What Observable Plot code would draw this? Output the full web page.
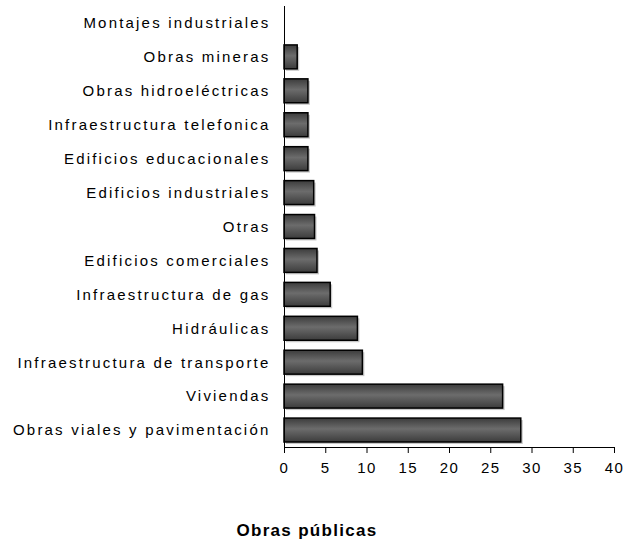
<!DOCTYPE html>
<html>
<head>
<meta charset="utf-8">
<script src="https://cdn.jsdelivr.net/npm/d3@7"></script>
<script src="https://cdn.jsdelivr.net/npm/@observablehq/plot@0.6"></script>
<style>
  html, body { margin: 0; padding: 0; background: #fff; }
  #chart { width: 635px; height: 490px; }
  #title { position: absolute; left: 0; top: 520px; width: 614px; text-align: center; font-family: "Liberation Sans", Arial, sans-serif; font-weight: bold; font-size: 17px; letter-spacing: 1.3px; color: #000; line-height: 22px; }
</style>
</head>
<body>
<div id="chart"></div>
<script>
const categories = [
  "Montajes industriales",
  "Obras mineras",
  "Obras hidroeléctricas",
  "Infraestructura telefonica",
  "Edificios educacionales",
  "Edificios industriales",
  "Otras",
  "Edificios comerciales",
  "Infraestructura de gas",
  "Hidráulicas",
  "Infraestructura de transporte",
  "Viviendas",
  "Obras viales y pavimentación"
];
const values = [0, 1.6, 2.9, 2.9, 2.9, 3.6, 3.7, 4.0, 5.6, 8.9, 9.5, 26.5, 28.7];
const xTicks = [0, 5, 10, 15, 20, 25, 30, 35, 40];
const titleText = "Obras públicas";

const data = categories.map((c, i) => ({category: c, value: values[i]}));

const plot = Plot.plot({
  width: 635,
  height: 490,
  marginLeft: 284,
  marginRight: 21,
  marginTop: 6,
  marginBottom: 43,
  style: {fontFamily: "'Liberation Sans', Arial, sans-serif", fontSize: "15px", color: "#000", background: "#fff"},
  x: {domain: [0, 40], ticks: xTicks, tickSize: 6, tickPadding: 9, label: null},
  y: {domain: categories, padding: 0, round: false, tickSize: 0, tickPadding: 14, label: null},
  marks: [
    Plot.barX(data.filter(d => d.value > 0), {y: "category", x: "value", insetTop: 5, insetBottom: 5, dx: 2, dy: 2, fill: "#c8c8c8"}),
    Plot.barX(data, {y: "category", x: "value", insetTop: 5, insetBottom: 5, fill: "url(#barGrad)", stroke: "#000", strokeWidth: 1.5}),
    Plot.ruleX([0], {stroke: "#000"}),
    Plot.frame({anchor: "bottom", stroke: "#000"})
  ]
});

const ns = "http://www.w3.org/2000/svg";
const defs = document.createElementNS(ns, "defs");
const grad = document.createElementNS(ns, "linearGradient");
grad.setAttribute("id", "barGrad");
grad.setAttribute("x1", "0"); grad.setAttribute("y1", "0");
grad.setAttribute("x2", "0"); grad.setAttribute("y2", "1");
[["0%", "#3c3c3c"], ["45%", "#6c6c6c"], ["100%", "#3c3c3c"]].forEach(([o, c]) => {
  const s = document.createElementNS(ns, "stop");
  s.setAttribute("offset", o); s.setAttribute("stop-color", c);
  grad.appendChild(s);
});
defs.appendChild(grad);
plot.insertBefore(defs, plot.firstChild);

plot.querySelectorAll("[aria-label='y-axis tick label'] text").forEach(t => t.style.letterSpacing = "2.2px");
plot.querySelectorAll("[aria-label='x-axis tick label'] text").forEach(t => t.style.letterSpacing = "1.5px");

document.getElementById("chart").appendChild(plot);
const t = document.createElement("div");
t.id = "title";
t.textContent = titleText;
document.body.appendChild(t);
</script>
</body>
</html>
